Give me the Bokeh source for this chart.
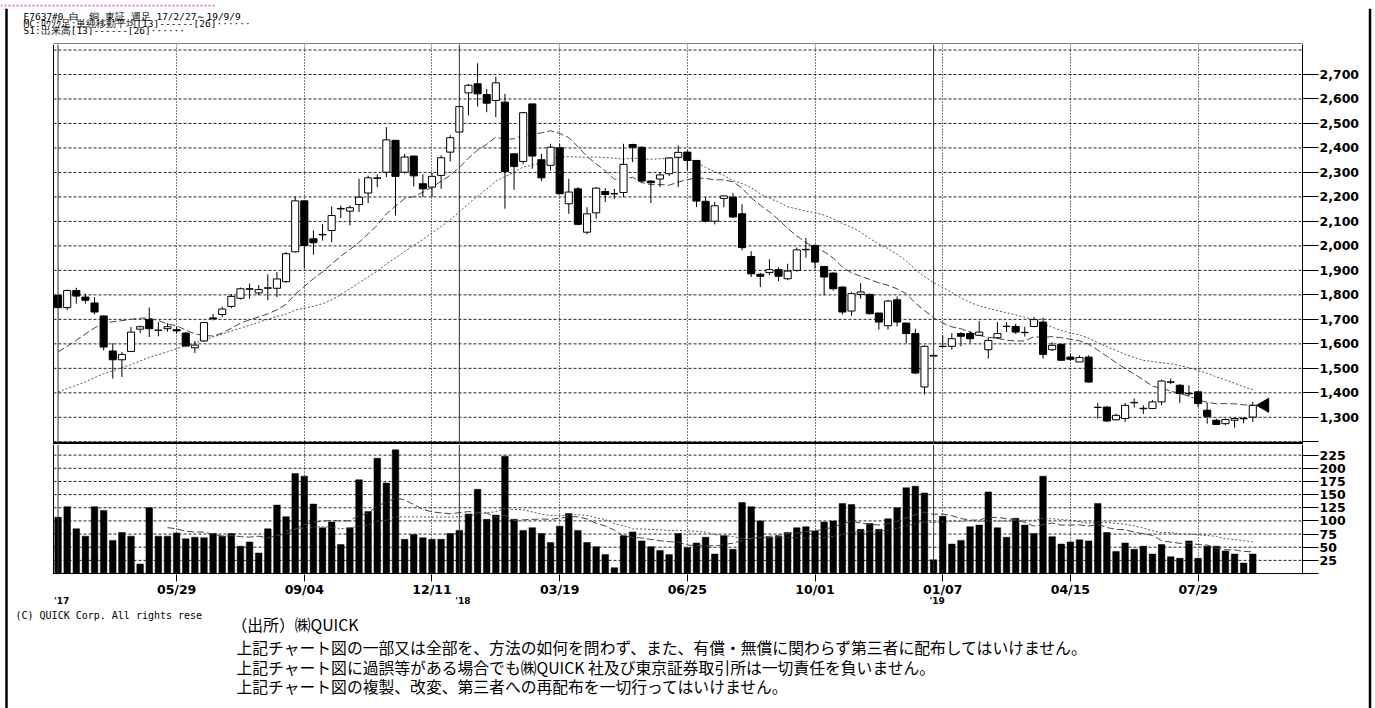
import numpy as np
import pandas as pd
from bokeh.plotting import figure
from bokeh.layouts import column, row
from bokeh.models import Range1d, LinearAxis, FixedTicker, Span, ColumnDataSource
from bokeh.core.properties import value
from bokeh.embed import file_html
from bokeh.resources import INLINE

# ---------------- data (weekly, 2017/2/27 .. 2019/9/9) ----------------
opens = [1798, 1748, 1818, 1791, 1767, 1714, 1571, 1535, 1569, 1660,
         1699, 1655, 1662, 1658, 1644, 1584, 1612, 1703, 1720, 1753,
         1786, 1823, 1808, 1827, 1827, 1854, 1976, 2184, 2029, 2045,
         2063, 2151, 2142, 2169, 2216, 2276, 2301, 2431, 2301, 2367,
         2254, 2240, 2288, 2383, 2465, 2625, 2662, 2618, 2594, 2587,
         2376, 2345, 2580, 2352, 2329, 2401, 2172, 2233, 2056, 2135,
         2222, 2213, 2218, 2414, 2403, 2265, 2273, 2295, 2362, 2383,
         2349, 2182, 2101, 2194, 2199, 2131, 1957, 1884, 1891, 1903,
         1866, 1900, 1984, 2002, 1916, 1889, 1832, 1734, 1802, 1802,
         1726, 1674, 1780, 1685, 1642, 1424, 1550, 1589, 1590, 1642,
         1642, 1635, 1576, 1625, 1671, 1671, 1646, 1671, 1689, 1576,
         1598, 1546, 1526, 1546, 1340, 1342, 1290, 1295, 1359, 1335,
         1336, 1363, 1443, 1431, 1396, 1404, 1329, 1288, 1274, 1288,
         1294, 1301]
highs = [1802, 1822, 1829, 1805, 1791, 1716, 1603, 1567, 1669, 1674,
         1748, 1689, 1684, 1672, 1648, 1612, 1690, 1723, 1752, 1803,
         1830, 1846, 1840, 1884, 1893, 1975, 2202, 2184, 2063, 2090,
         2161, 2165, 2165, 2274, 2287, 2292, 2485, 2433, 2375, 2367,
         2292, 2298, 2370, 2452, 2573, 2661, 2746, 2641, 2692, 2621,
         2376, 2547, 2580, 2376, 2417, 2417, 2274, 2240, 2158, 2240,
         2236, 2233, 2417, 2417, 2406, 2268, 2301, 2362, 2410, 2390,
         2349, 2199, 2179, 2206, 2216, 2170, 1978, 1890, 1945, 1913,
         1927, 1993, 2033, 2006, 1916, 1893, 1835, 1812, 1848, 1806,
         1726, 1780, 1794, 1685, 1662, 1594, 1560, 1635, 1644, 1648,
         1652, 1693, 1625, 1689, 1689, 1682, 1670, 1710, 1707, 1607,
         1600, 1560, 1553, 1553, 1359, 1345, 1315, 1359, 1377, 1349,
         1370, 1454, 1458, 1436, 1431, 1408, 1359, 1293, 1295, 1298,
         1300, 1363]
lows = [1745, 1737, 1764, 1764, 1720, 1573, 1458, 1465, 1566, 1644,
        1628, 1631, 1650, 1642, 1587, 1562, 1608, 1696, 1709, 1746,
        1781, 1784, 1799, 1778, 1791, 1850, 1973, 1907, 1964, 2022,
        2016, 2114, 2084, 2138, 2175, 2240, 2281, 2124, 2294, 2243,
        2199, 2199, 2233, 2345, 2461, 2533, 2569, 2546, 2526, 2152,
        2229, 2335, 2315, 2265, 2308, 2213, 2131, 2084, 2047, 2111,
        2179, 2193, 2199, 2342, 2257, 2175, 2240, 2285, 2240, 2308,
        2158, 2096, 2088, 2158, 2115, 1982, 1873, 1832, 1880, 1856,
        1860, 1895, 1952, 1907, 1798, 1818, 1720, 1714, 1784, 1720,
        1658, 1658, 1671, 1603, 1476, 1394, 1545, 1585, 1576, 1590,
        1603, 1632, 1540, 1620, 1648, 1641, 1630, 1668, 1540, 1571,
        1530, 1530, 1526, 1440, 1295, 1281, 1287, 1281, 1340, 1314,
        1333, 1349, 1436, 1359, 1385, 1342, 1274, 1268, 1268, 1258,
        1275, 1281]
closes = [1748, 1818, 1795, 1778, 1730, 1587, 1535, 1557, 1648, 1670,
          1662, 1656, 1670, 1653, 1591, 1595, 1687, 1706, 1742, 1794,
          1825, 1825, 1822, 1829, 1865, 1968, 2184, 2002, 2013, 2047,
          2124, 2153, 2156, 2199, 2278, 2278, 2433, 2284, 2363, 2286,
          2233, 2284, 2360, 2442, 2569, 2656, 2621, 2583, 2666, 2304,
          2324, 2544, 2367, 2278, 2403, 2213, 2220, 2088, 2131, 2236,
          2210, 2213, 2333, 2403, 2265, 2258, 2290, 2359, 2382, 2349,
          2183, 2101, 2164, 2204, 2118, 1993, 1886, 1876, 1903, 1876,
          1897, 1984, 1986, 1934, 1873, 1825, 1730, 1805, 1812, 1723,
          1689, 1775, 1689, 1642, 1481, 1590, 1553, 1590, 1621, 1631,
          1621, 1648, 1614, 1642, 1672, 1648, 1647, 1699, 1557, 1594,
          1533, 1537, 1544, 1444, 1341, 1285, 1308, 1349, 1361, 1337,
          1363, 1448, 1445, 1397, 1398, 1356, 1304, 1271, 1291, 1295,
          1296, 1349]
volumes = [107, 127, 85, 71, 127, 120, 63, 78, 71, 18,
           125, 71, 71, 77, 66, 69, 68, 76, 71, 76,
           52, 60, 39, 85, 130, 108, 190, 185, 132, 87,
           98, 55, 87, 178, 118, 219, 172, 235, 65, 74,
           68, 65, 65, 76, 82, 113, 160, 103, 111, 223,
           103, 82, 87, 76, 59, 90, 114, 82, 59, 51,
           36, 11, 72, 79, 62, 51, 44, 36, 76, 49,
           58, 69, 37, 72, 46, 135, 127, 100, 69, 71,
           78, 87, 89, 81, 98, 100, 133, 131, 84, 95,
           84, 104, 125, 163, 166, 153, 26, 109, 56, 63,
           89, 92, 155, 87, 69, 105, 92, 76, 185, 70,
           56, 60, 64, 62, 133, 78, 42, 58, 46, 52,
           37, 55, 32, 29, 62, 29, 52, 52, 43, 37,
           20, 37]
# moving-average values before a full window exists
ma13_head = [1567, 1590, 1615, 1640, 1665, 1685, 1690, 1695, 1700, 1705, 1705, 1695]
ma26_head = [1403, 1418, 1430, 1445, 1462, 1478, 1490, 1503, 1515, 1530,
             1545, 1556, 1568, 1580, 1592, 1603, 1615, 1628, 1640, 1652,
             1664, 1676, 1688, 1700, 1712]

x_tick_pos = [13, 27, 41, 55, 69, 83, 97, 111, 125]
x_tick_labels = ["05/29", "09/04", "12/11", "03/19", "06/25", "10/01", "01/07", "04/15", "07/29"]
year_pos = [0, 44, 96]
year_labels = ["'17", "'18", "'19"]
price_ticks = [1200, 1300, 1400, 1500, 1600, 1700, 1800, 1900, 2000, 2100, 2200, 2300, 2400, 2500, 2600, 2700]
price_tick_labels = ["", "1,300", "1,400", "1,500", "1,600", "1,700", "1,800", "1,900", "2,000",
                     "2,100", "2,200", "2,300", "2,400", "2,500", "2,600", "2,700"]
price_grid = [1200, 1300, 1400, 1500, 1600, 1700, 1800, 1900, 2000, 2100, 2200, 2300, 2400, 2500, 2600, 2700, 2800]
vol_ticks = [0, 25, 50, 75, 100, 125, 150, 175, 200, 225]
vol_tick_labels = ["", "25", "50", "75", "100", "125", "150", "175", "200", "225"]
vol_grid = [25, 50, 75, 100, 125, 150, 175, 200, 225]

header_lines = ["E7637#0 白　銅 東証 週足 17/2/27～19/9/9",
                "MC:ﾛｳｿｸ足:単純移動平均[13]------[26]······",
                "S1:出来高[13]------[26]······"]
copyright_text = "(C) QUICK Corp. All rights rese"
footer_lines = ["（出所）㈱QUICK",
                "上記チャート図の一部又は全部を、方法の如何を問わず、また、有償・無償に関わらず第三者に配布してはいけません。",
                "上記チャート図に過誤等がある場合でも㈱QUICK 社及び東京証券取引所は一切責任を負いません。",
                "上記チャート図の複製、改変、第三者への再配布を一切行ってはいけません。"]

# ---------------- layout (page pixels) ----------------
TOTAL_W, TOTAL_H = 1375, 708
TOP_H = 8
LEFT_W, RIGHT_W = 8, 9
MAIN_W = TOTAL_W - LEFT_W - RIGHT_W          # 1358 : page x 8 .. 1366
MR = 64                                      # frames: page x 8 .. 1302
FRAME_L, FRAME_R = LEFT_W, LEFT_W + MAIN_W - MR
PLOT_L = 53                                  # visible chart box starts here
HDR_H, PRICE_H = 36, 400                     # page y 8..44, 44..444
PX_UNIT = 1249.0 / 136.95                    # pixels per week
XI0 = -0.5                                   # week index at page x 53
X0 = XI0 - (PLOT_L - FRAME_L) / PX_UNIT
X1 = 136.45
P0, P1 = 1189.0, 2822.5
PPX = PRICE_H / (P1 - P0)
VPX = 134.0 / 245.2
VOL_FRAME_H, VOL_BOT = 135, 29               # page y 444..579, axis below
V1 = 245.2
V0 = -1.0 / VPX
VOL_H = VOL_FRAME_H + VOL_BOT
FTR_TOP = TOP_H + HDR_H + PRICE_H + VOL_H
FTR_H = TOTAL_H - FTR_TOP

n = len(closes)
xs = list(range(n))
ma13 = pd.Series(closes, dtype=float).rolling(13).mean().to_numpy()
ma13[:len(ma13_head)] = ma13_head
ma26 = pd.Series(closes, dtype=float).rolling(26).mean().to_numpy()
ma26[:len(ma26_head)] = ma26_head
vma13 = pd.Series(volumes, dtype=float).rolling(13).mean().to_numpy()
vma26 = pd.Series(volumes, dtype=float).rolling(26).mean().to_numpy()

AXFONT = "DejaVu Sans"
x_range = Range1d(X0, X1)


def bare(width, height, x0, x1, y_top, y_bot, mr=0):
    f = figure(width=width, height=height, x_range=Range1d(x0, x1), y_range=Range1d(y_bot, y_top),
               output_backend="svg", toolbar_location=None,
               x_axis_location=None, y_axis_location=None, min_border=0,
               min_border_left=0, min_border_right=mr, min_border_top=0, min_border_bottom=0,
               background_fill_color="white", border_fill_color="white")
    f.outline_line_color = None
    f.grid.visible = False
    return f


def panel(height, yr, bottom):
    f = figure(width=MAIN_W, height=height, x_range=x_range, y_range=yr,
               output_backend="svg", toolbar_location=None,
               x_axis_location=None, y_axis_location=None, min_border=0,
               min_border_left=0, min_border_right=MR, min_border_top=0, min_border_bottom=bottom,
               background_fill_color="white", border_fill_color="white")
    f.outline_line_color = None
    f.ygrid.visible = False
    f.xgrid.ticker = FixedTicker(ticks=x_tick_pos)
    f.xgrid.grid_line_color = "black"
    f.xgrid.grid_line_dash = "1 2"
    f.xgrid.grid_line_width = 1
    f.add_layout(Span(location=XI0, dimension="height", line_color="black", line_width=1))
    for yp in year_pos:
        f.add_layout(Span(location=yp, dimension="height", line_color="#333333", line_width=1))
    return f


def hgrid(f, levels):
    f.segment(x0=[XI0] * len(levels), y0=levels, x1=[X1] * len(levels), y1=levels,
              line_color="#222222", line_dash="3 2", line_width=1)


def style_axis(ax, tick_out, standoff):
    ax.axis_line_color = "black"
    ax.axis_line_width = 1
    ax.major_tick_out = tick_out
    ax.major_tick_in = 0
    ax.major_tick_line_color = "black"
    ax.minor_tick_line_color = None
    ax.major_label_text_font = AXFONT
    ax.major_label_text_font_style = "bold"
    ax.major_label_text_font_size = "12.5px"
    ax.major_label_text_color = "black"
    ax.major_label_standoff = standoff


# ---------------- top strip (page border) ----------------
top = bare(TOTAL_W, TOP_H, 0, TOTAL_W, 0, TOP_H)
top.segment(x0=[0], y0=[1], x1=[215], y1=[1], line_color="#e070e0", line_width=2, line_dash="2 2")
top.segment(x0=[5], y0=[4.5], x1=[1370.5], y1=[4.5], line_color="black", line_width=2)
top.segment(x0=[6, 1369.5], y0=[4.5, 4.5], x1=[6, 1369.5], y1=[TOP_H, TOP_H],
            line_color="black", line_width=2.5)

# ---------------- header ----------------
hdr = bare(MAIN_W, HDR_H, FRAME_L, FRAME_R, TOP_H, TOP_H + HDR_H, mr=MR)
hdr.text(x=[23, 23, 23], y=[15.5, 22.5, 29.5], text=header_lines,
         text_font=value("DejaVu Sans Mono"), text_font_size=value("9.5px"),
         text_color="black", text_align="left", text_baseline="middle")
hdr.segment(x0=[PLOT_L], y0=[43.5], x1=[FRAME_R], y1=[43.5], line_color="black", line_width=1)

# ---------------- price panel ----------------
p = panel(PRICE_H, Range1d(P0, P1), 0)
hgrid(p, price_grid)
ay = LinearAxis(ticker=FixedTicker(ticks=price_ticks),
                major_label_overrides={t: s for t, s in zip(price_ticks, price_tick_labels)})
style_axis(ay, 16, 1)
p.add_layout(ay, "right")

src = ColumnDataSource(dict(
    x=xs, o=opens, h=highs, l=lows, c=closes,
    top=[max(a, b) for a, b in zip(opens, closes)],
    bot=[min(a, b) for a, b in zip(opens, closes)],
    fill=["white" if c >= o else "black" for o, c in zip(opens, closes)],
))
p.line(xs, ma26, line_color="#555555", line_dash="2 2", line_width=1)
p.line(xs, ma13, line_color="#444444", line_dash="7 3", line_width=1)
p.segment(x0="x", y0="l", x1="x", y1="h", source=src, line_color="black", line_width=1)
p.vbar(x="x", top="top", bottom="bot", width=0.78, source=src,
       fill_color="fill", line_color="black", line_width=1)
p.scatter(x=[xs[-1] + 1.3], y=[closes[-1]], marker="triangle", size=14, angle=np.pi / 2,
          fill_color="black", line_color="black")
sep = P0 + 1.2 / PPX
p.segment(x0=[XI0], y0=[sep], x1=[X1], y1=[sep], line_color="black", line_width=3)

# ---------------- volume panel ----------------
v = panel(VOL_H, Range1d(V0, V1), VOL_BOT)
hgrid(v, vol_grid)
v.vbar(x=xs, top=volumes, bottom=0, width=0.72, fill_color="black", line_color="black", line_width=0.5)
v.line(xs, vma26, line_color="#555555", line_dash="2 2", line_width=1)
v.line(xs, vma13, line_color="#444444", line_dash="7 3", line_width=1)
v.segment(x0=[XI0], y0=[0], x1=[X1], y1=[0], line_color="black", line_width=1)

avy = LinearAxis(ticker=FixedTicker(ticks=vol_ticks),
                 major_label_overrides={t: s for t, s in zip(vol_ticks, vol_tick_labels)})
style_axis(avy, 16, 1)
v.add_layout(avy, "right")

ax = LinearAxis(ticker=FixedTicker(ticks=x_tick_pos),
                major_label_overrides={t: s for t, s in zip(x_tick_pos, x_tick_labels)})
style_axis(ax, 7, 0)
ax.axis_line_color = None
v.add_layout(ax, "below")

year_ticks = [yp + 0.4 for yp in year_pos]
ayr = LinearAxis(ticker=FixedTicker(ticks=year_ticks),
                 major_label_overrides={t: s for t, s in zip(year_ticks, year_labels)})
style_axis(ayr, 0, -4)
ayr.axis_line_color = None
ayr.major_tick_line_color = None
ayr.major_label_text_font_size = "9px"
v.add_layout(ayr, "below")

# ---------------- footer ----------------
ftr = bare(MAIN_W, FTR_H, FRAME_L, FRAME_R, FTR_TOP, TOTAL_H, mr=MR)
ftr.text(x=[15], y=[615], text=[copyright_text], text_font=value("DejaVu Sans Mono"),
         text_font_size=value("10px"), text_color="black", text_align="left", text_baseline="middle")
ftr.text(x=[231, 236, 236, 236], y=[624, 647, 666.5, 686], text=footer_lines,
         text_font=value("Noto Sans CJK JP"), text_font_size=value("15.8px"),
         text_color="black", text_align="left", text_baseline="middle")

# ---------------- page border strips ----------------
lft = bare(LEFT_W, TOTAL_H - TOP_H, 0, LEFT_W, TOP_H, TOTAL_H)
lft.segment(x0=[6], y0=[TOP_H], x1=[6], y1=[TOTAL_H], line_color="black", line_width=2.5)
rgt = bare(RIGHT_W, TOTAL_H - TOP_H, LEFT_W + MAIN_W, TOTAL_W, TOP_H, TOTAL_H)
rgt.segment(x0=[1369.5], y0=[TOP_H], x1=[1369.5], y1=[TOTAL_H], line_color="black", line_width=2.5)

layout = column(top, row(lft, column(hdr, p, v, ftr), rgt))
open("out.html", "w").write(file_html(layout, INLINE))
